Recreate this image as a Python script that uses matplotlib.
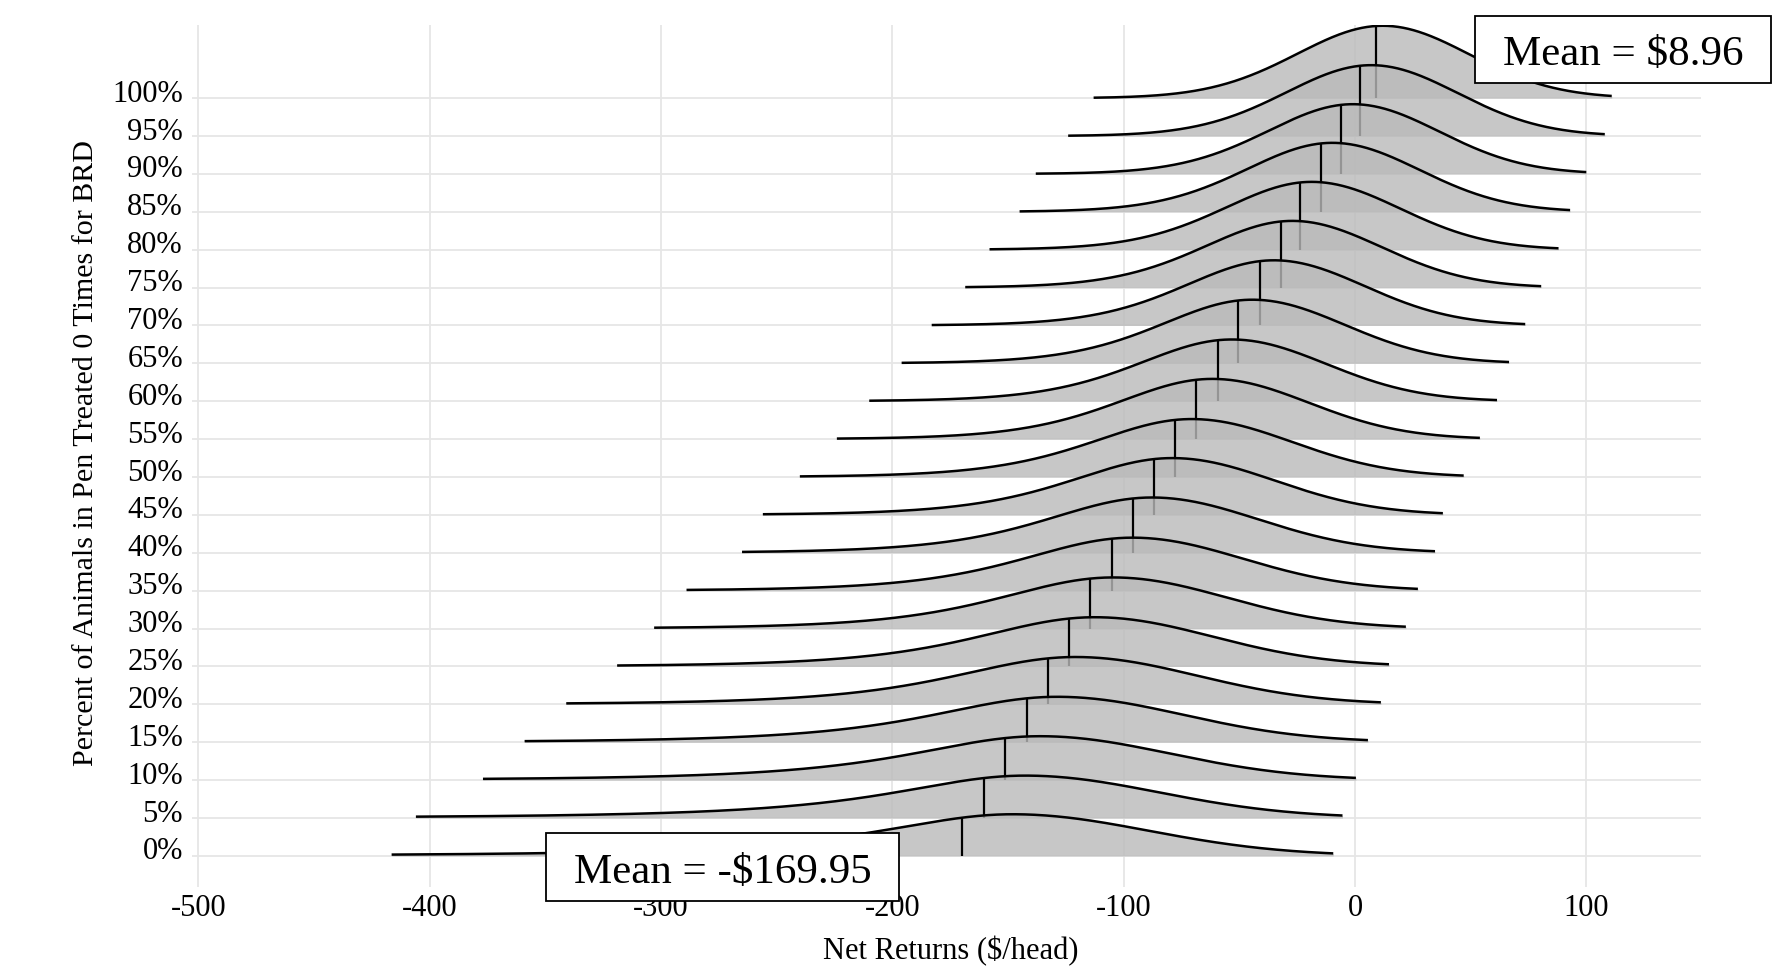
import numpy as np
import matplotlib
matplotlib.use("Agg")
import matplotlib.pyplot as plt
from matplotlib.patches import Rectangle
from matplotlib.transforms import ScaledTranslation

plt.rcParams['font.family'] = ['Liberation Serif', 'DejaVu Serif']
plt.rcParams['axes.unicode_minus'] = False

# ---------------- data ----------------
pct_labels = ['0%', '5%', '10%', '15%', '20%', '25%', '30%', '35%', '40%', '45%', '50%',
              '55%', '60%', '65%', '70%', '75%', '80%', '85%', '90%', '95%', '100%']
means = [-169.95, -160.6, -151.2, -141.8, -132.9, -123.5, -114.6, -105.2, -95.8, -87.0, -77.6,
         -68.7, -59.3, -50.4, -41.0, -32.1, -23.7, -14.8, -5.9, 2.0, 8.96]
modes = [-148.0, -142.6, -136.2, -128.8, -120.9, -112.5, -104.6, -96.2, -87.8, -79.0, -70.6,
         -61.7, -53.3, -44.4, -35.0, -27.1, -18.7, -9.8, -0.9, 7.0, 12.0]
lows = [-416.5, -406, -377, -359, -341, -319, -303, -289, -265, -256, -240,
        -224, -210, -196, -183, -168.5, -158, -145, -138, -124, -113]
highs = [-9.4, -5.4, 0.4, 5.6, 11.2, 14.7, 22, 27.2, 34.6, 38, 47,
         54, 61.4, 66.6, 73.6, 80.5, 88, 93, 100, 108, 111]
peak_heights = [1.10, 1.12, 1.16, 1.20, 1.25, 1.30, 1.35, 1.40, 1.46, 1.50, 1.53,
                1.59, 1.63, 1.68, 1.72, 1.76, 1.79, 1.82, 1.84, 1.87, 1.91]
half_widths = [69, 68, 66, 64, 62, 60, 58, 56, 54, 52, 51,
               49, 48, 47, 46, 45.5, 45, 44.5, 44, 44, 44]
left_tail_nu = [2, 2, 2.5, 3, 3.5, 4, 4.5, 5, 5.5, 6, 7,
                8, 9, 10, 12, 14, 17, 20, 25, 35, 50]
xtick_vals = [-500, -400, -300, -200, -100, 0, 100]
xtick_labels = ['-500', '-400', '-300', '-200', '-100', '0', '100']
mean_label_top = 'Mean = $8.96'
mean_label_bottom = 'Mean = -$169.95'


def profile(x, mode, hw, nu):
    x = np.asarray(x, dtype=float)
    sr = hw / np.sqrt(2 * np.log(2))
    q = 2 ** (2.0 / (nu + 1)) - 1
    sl = hw / np.sqrt(nu * q)
    d = x - mode
    left = (1 + d ** 2 / (nu * sl ** 2)) ** (-(nu + 1) / 2)
    right = np.exp(-0.5 * (d / sr) ** 2)
    return np.where(d < 0, left, right)


fig = plt.figure(figsize=(17.92, 9.75), dpi=100)
ax = fig.add_axes([192 / 1792, 1 - 887 / 975, (1701 - 192) / 1792, (887 - 25) / 975])
ax.set_xlim(-502.8, 149.6)
ax.set_ylim(-0.82, 21.93)
for s in ax.spines.values():
    s.set_visible(False)

ax.set_xticks(xtick_vals)
ax.set_xticklabels(xtick_labels)
ax.set_yticks(range(len(pct_labels)))
ax.set_yticklabels([])
ax.tick_params(axis='both', length=0, labelsize=22, colors='black')
ax.tick_params(axis='x', pad=5)
ax.set_axisbelow(True)
ax.grid(True, color='#E6E6E6', lw=1.3)

# y tick labels: bottom-aligned on the grid lines (ridgeline style)
ylab_tr = ax.get_yaxis_transform() + ScaledTranslation(-9 / 100, -3.5 / 100, fig.dpi_scale_trans)
for i, lab in enumerate(pct_labels):
    ax.text(0, i, lab, transform=ylab_tr, ha='right', va='baseline', fontsize=22, clip_on=False)

n = len(pct_labels)
for i in range(n - 1, -1, -1):
    z = 2 + (n - 1 - i) * 0.1
    xs = np.linspace(lows[i], highs[i], 600)
    ys = i + peak_heights[i] * profile(xs, modes[i], half_widths[i], left_tail_nu[i])
    ax.fill_between(xs, i, ys, color='#BABABA', alpha=0.8, lw=0, zorder=z)
    ax.plot(xs, ys, color='black', lw=1.8, zorder=z + 0.01, solid_capstyle='butt')
    ym = i + peak_heights[i] * float(profile(means[i], modes[i], half_widths[i], left_tail_nu[i]))
    ax.plot([means[i], means[i]], [i, ym], color='black', lw=1.6, zorder=z + 0.02,
            solid_capstyle='butt')

# axis titles
fig.text(951 / 1792, 1 - 951 / 975, 'Net Returns ($/head)', ha='center', va='center', fontsize=22)
fig.text(86 / 1792, 1 - 453 / 975, 'Percent of Animals in Pen Treated 0 Times for BRD',
         ha='center', va='center', rotation=90, fontsize=21.6)

# mean annotation boxes
r1 = Rectangle((1475 / 1792, 1 - 83 / 975), 296 / 1792, 67 / 975, transform=fig.transFigure,
               facecolor='white', edgecolor='black', lw=1.3, zorder=5)
fig.add_artist(r1)
fig.text(1623 / 1792, 1 - 55 / 975, mean_label_top, ha='center', va='center', fontsize=31, zorder=6)
r2 = Rectangle((546 / 1792, 1 - 901 / 975), 353 / 1792, 68 / 975, transform=fig.transFigure,
               facecolor='white', edgecolor='black', lw=1.3, zorder=5)
fig.add_artist(r2)
fig.text(722.5 / 1792, 1 - 873 / 975, mean_label_bottom, ha='center', va='center', fontsize=31, zorder=6)

fig.savefig('out.png', dpi=100, facecolor='white')
